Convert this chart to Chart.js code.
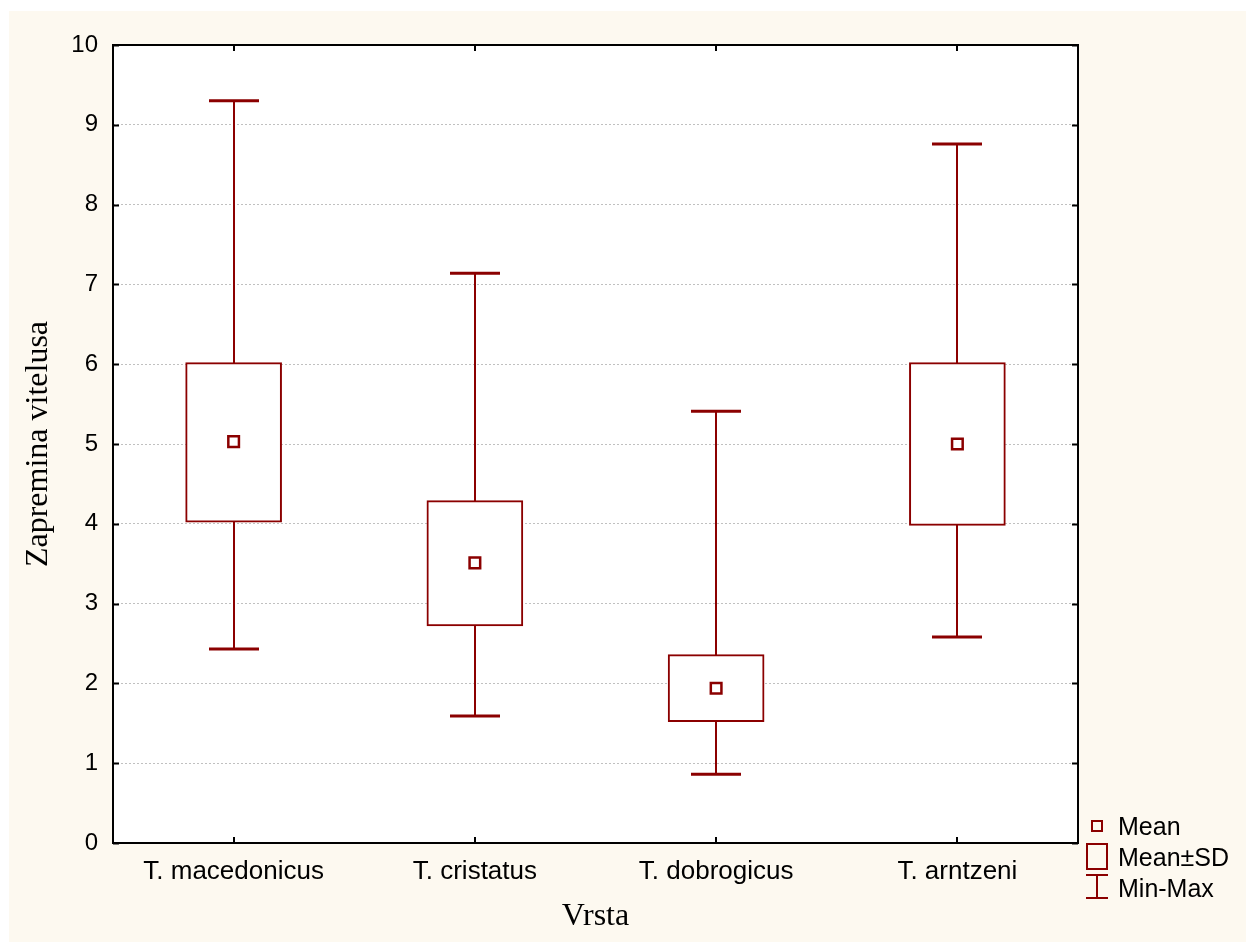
<!DOCTYPE html>
<html>
<head>
<meta charset="utf-8">
<script src="https://cdn.jsdelivr.net/npm/chart.js@4/dist/chart.umd.min.js"></script>
<style>
  body { margin: 0; background: #fff; }
  #wrap { position: relative; width: 1246px; height: 942px; overflow: hidden; }
  #paper { position: absolute; left: 9px; top: 11px; right: 0; bottom: 0; background: #fdf9f0; }
  canvas { position: absolute; left: 0; top: 0; }
  .lg { position: absolute; font: 25px "Liberation Sans", Arial, sans-serif; color: #000; white-space: nowrap; }
  .sym { position: absolute; box-sizing: border-box; }
</style>
</head>
<body>
<div id="wrap">
  <div id="paper"></div>
  <canvas id="chart" width="1246" height="942"></canvas>

  <!-- legend -->
  <div class="sym" style="left:1091px;top:820px;width:12px;height:12px;border:2px solid #8b0000"></div>
  <div class="lg" style="left:1118px;top:812px;line-height:28px">Mean</div>
  <div class="sym" style="left:1086px;top:843px;width:22px;height:27px;border:2px solid #8b0000"></div>
  <div class="lg" style="left:1118px;top:843px;line-height:28px">Mean±SD</div>
  <div class="sym" style="left:1086px;top:874px;width:22px;height:2px;background:#8b0000"></div>
  <div class="sym" style="left:1096px;top:875px;width:2px;height:23px;background:#8b0000"></div>
  <div class="sym" style="left:1086px;top:897px;width:22px;height:2px;background:#8b0000"></div>
  <div class="lg" style="left:1118px;top:874px;line-height:28px">Min-Max</div>
</div>

<script>
/* ── Data ── */
const species = ["T. macedonicus", "T. cristatus", "T. dobrogicus", "T. arntzeni"];
const means   = [5.03, 3.51, 1.94, 5.00];
const sdLow   = [4.02, 2.72, 1.52, 3.98];
const sdHigh  = [6.02, 4.29, 2.36, 6.02];
const minVals = [2.43, 1.59, 0.86, 2.58];
const maxVals = [9.30, 7.14, 5.41, 8.76];
const yTicks  = [0, 1, 2, 3, 4, 5, 6, 7, 8, 9, 10];

const RED   = "#8b0000";
const SANS  = "'Liberation Sans', Arial, sans-serif";
const SERIF = "'Liberation Serif', 'Times New Roman', serif";

/* ── Plot background, whiskers and frame ── */
const boxPlotExtras = {
  id: "boxPlotExtras",
  beforeDraw(chart) {
    const { ctx, chartArea: a } = chart;
    ctx.save();
    ctx.fillStyle = "#fff";
    ctx.fillRect(a.left, a.top, a.right - a.left, a.bottom - a.top);
    ctx.restore();
  },
  beforeDatasetsDraw(chart) {
    const { ctx, scales: { x, y } } = chart;
    ctx.save();
    ctx.strokeStyle = RED;
    species.forEach((_, i) => {
      const px = Math.round(x.getPixelForValue(i));
      const yMin = y.getPixelForValue(minVals[i]);
      const yMax = y.getPixelForValue(maxVals[i]);
      ctx.lineWidth = 2;
      ctx.beginPath();
      ctx.moveTo(px, yMax);
      ctx.lineTo(px, yMin);
      ctx.stroke();
      ctx.lineWidth = 3;
      ctx.beginPath();
      ctx.moveTo(px - 25, yMax);
      ctx.lineTo(px + 25, yMax);
      ctx.moveTo(px - 25, yMin);
      ctx.lineTo(px + 25, yMin);
      ctx.stroke();
    });
    ctx.restore();
  },
  afterDraw(chart) {
    const { ctx, chartArea: a, scales: { x, y } } = chart;
    ctx.save();
    ctx.strokeStyle = "#000";
    ctx.lineWidth = 2;
    ctx.strokeRect(a.left, a.top, a.right - a.left, a.bottom - a.top);
    ctx.beginPath();
    yTicks.forEach(v => {
      const py = Math.round(y.getPixelForValue(v)) + 0.5;
      ctx.moveTo(a.left, py);  ctx.lineTo(a.left + 6, py);
      ctx.moveTo(a.right, py); ctx.lineTo(a.right - 6, py);
    });
    species.forEach((_, i) => {
      const px = Math.round(x.getPixelForValue(i));
      ctx.moveTo(px, a.bottom); ctx.lineTo(px, a.bottom - 6);
      ctx.moveTo(px, a.top);    ctx.lineTo(px, a.top + 6);
    });
    ctx.stroke();
    ctx.restore();
  }
};

/* ── Chart ── */
new Chart(document.getElementById("chart"), {
  data: {
    labels: species,
    datasets: [
      {
        type: "line",
        label: "Mean",
        data: means,
        showLine: false,
        pointStyle: "rect",
        pointRadius: 7.5,
        pointBorderWidth: 2.5,
        pointBackgroundColor: "#fff",
        pointBorderColor: RED,
        order: 0,
      },
      {
        type: "bar",
        label: "Mean±SD",
        data: species.map((_, i) => [sdLow[i], sdHigh[i]]),
        backgroundColor: "#fff",
        borderColor: RED,
        borderWidth: 2,
        borderSkipped: false,
        barThickness: 96,
        order: 1,
      },
    ],
  },
  plugins: [boxPlotExtras],
  options: {
    responsive: false,
    animation: false,
    devicePixelRatio: 1,
    layout: { padding: { top: 45, right: 168, left: 0, bottom: 0 } },
    plugins: { legend: { display: false }, tooltip: { enabled: false } },
    scales: {
      x: {
        type: "category",
        offset: true,
        grid: { display: false, drawTicks: false },
        border: { display: false },
        ticks: { color: "#000", font: { family: SANS, size: 26 }, padding: 13, maxRotation: 0, autoSkip: false },
        title: { display: true, text: "Vrsta", color: "#000", font: { family: SERIF, size: 32 }, padding: { top: 0, bottom: 6 } },
        afterFit: s => { s.height = 99; },
      },
      y: {
        min: 0,
        max: 10,
        afterBuildTicks: s => { s.ticks = yTicks.map(v => ({ value: v })); },
        grid: { color: "#c0c0c0", lineWidth: 1, drawTicks: false },
        border: { display: false, dash: [2, 2] },
        ticks: { color: "#000", font: { family: SANS, size: 24 }, padding: 15 },
        title: { display: true, text: "Zapremina vitelusa", color: "#000", font: { family: SERIF, size: 32 }, padding: { top: 19, bottom: 0 } },
        afterFit: s => { s.width = 113; },
      },
    },
  },
});
</script>
</body>
</html>
